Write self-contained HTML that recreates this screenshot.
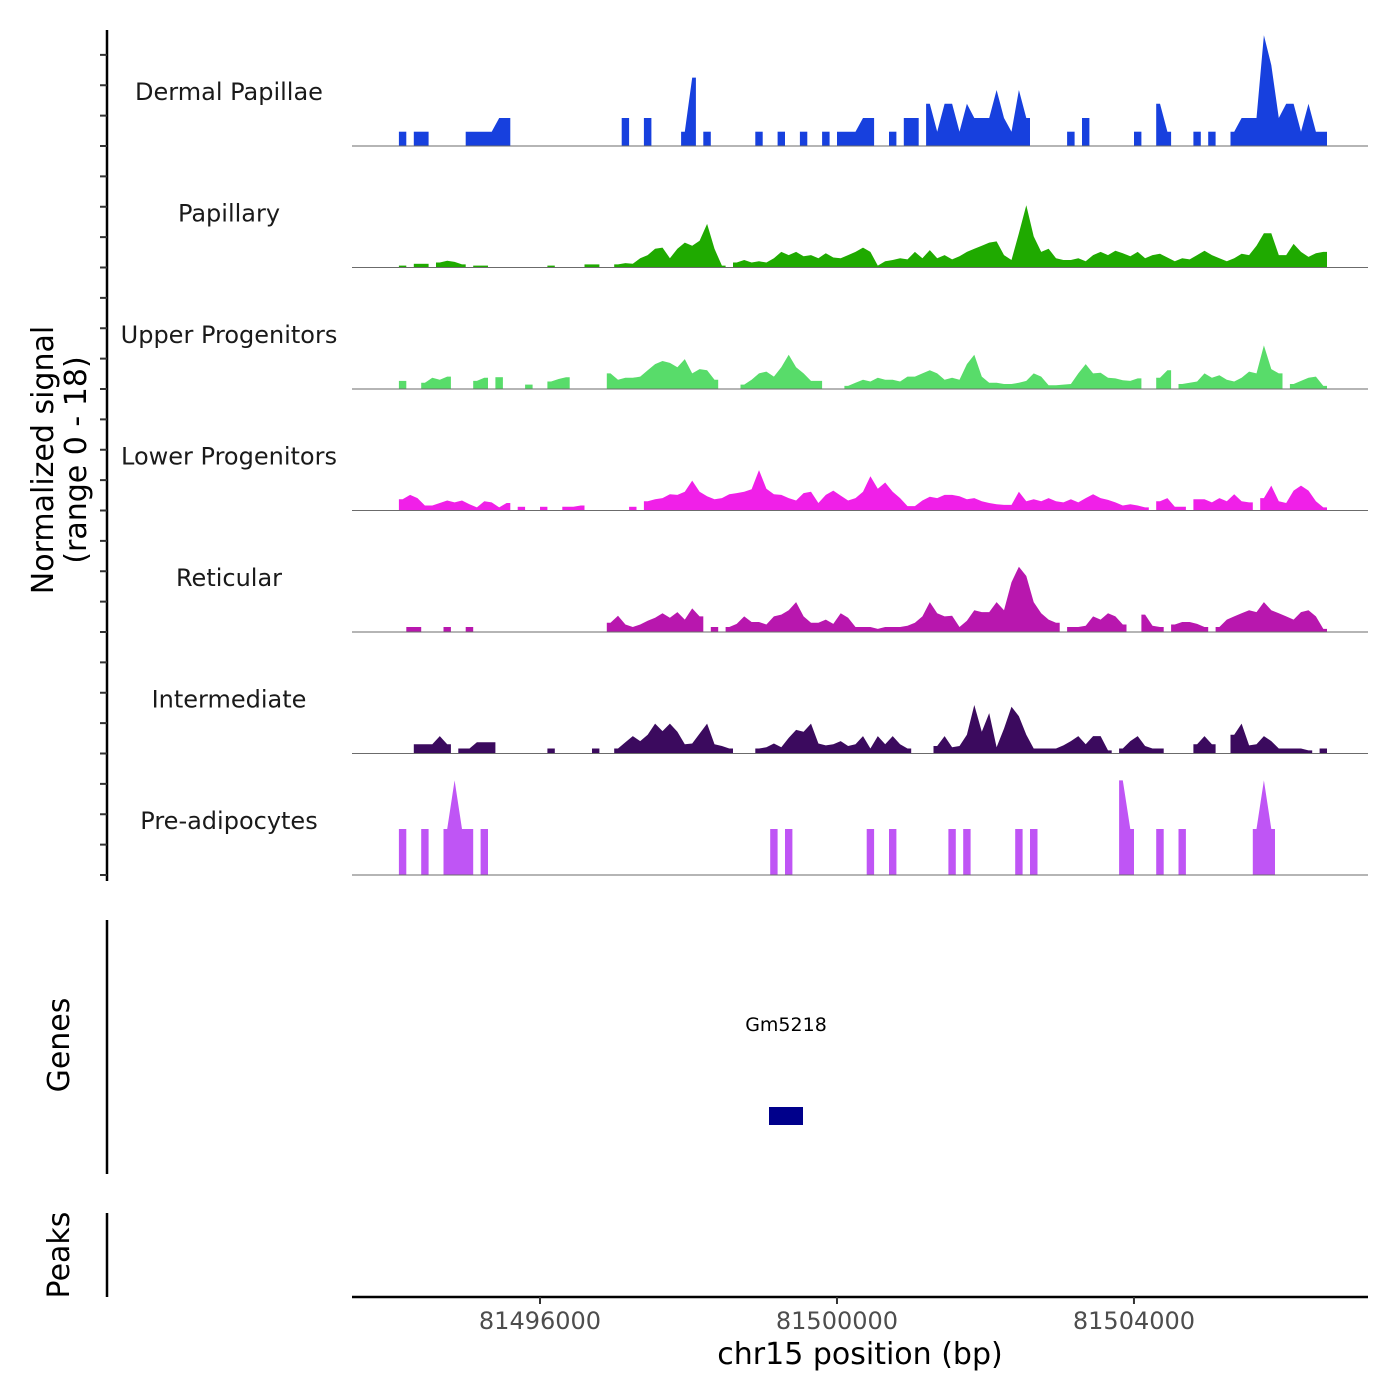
<!DOCTYPE html>
<html><head><meta charset="utf-8"><title>Coverage plot</title>
<style>
html,body{margin:0;padding:0;background:#fff;}
svg{display:block;font-family:"DejaVu Sans","Liberation Sans",sans-serif;}
</style></head>
<body>
<svg id="chart" width="1400" height="1400" viewBox="0 0 1400 1400" xmlns="http://www.w3.org/2000/svg">
<rect x="0" y="0" width="1400" height="1400" fill="#fff"/>
<g id="tracks"></g>
<g id="yaxis"></g>
<text x="53" y="460" font-size="30" text-anchor="middle" transform="rotate(-90 53 460)" fill="#000">Normalized signal</text>
<text x="86" y="460" font-size="30" text-anchor="middle" transform="rotate(-90 86 460)" fill="#000">(range 0 - 18)</text>
<line x1="107" y1="920" x2="107" y2="1174" stroke="#000" stroke-width="2.5"/>
<text x="69" y="1045" font-size="30" text-anchor="middle" transform="rotate(-90 69 1045)" fill="#000">Genes</text>
<text x="786" y="1031" font-size="19" text-anchor="middle" fill="#000">Gm5218</text>
<rect x="769" y="1107" width="34" height="18" fill="#00008B"/>
<line x1="107" y1="1213" x2="107" y2="1297" stroke="#000" stroke-width="2.5"/>
<text x="69" y="1255" font-size="30" text-anchor="middle" transform="rotate(-90 69 1255)" fill="#000">Peaks</text>
<g id="xaxis"></g>
<text x="860" y="1364" font-size="30" text-anchor="middle" fill="#000">chr15 position (bp)</text>
</svg>
<script>
const NS = "http://www.w3.org/2000/svg";
const trackNames = ["Dermal Papillae","Papillary","Upper Progenitors","Lower Progenitors","Reticular","Intermediate","Pre-adipocytes"];
const trackColors = ["#1740DE","#1FAA00","#58DC6A","#F020E8","#B817AE","#3B0A5E","#BF55F5"];
const binStart = 81494000;
const binSize = 100;
const nBins = 126;
const xTicks = [81496000, 81500000, 81504000];
const xDomain = [81493468, 81507152];
const yMax = 18;
const dermalPapillae = {1:2.3,3:2.3,4:2.3,10:2.3,11:2.3,12:2.3,13:2.3,14:4.5,15:4.5,31:4.5,34:4.5,39:2.3,40:11,42:2.3,49:2.3,52:2.3,55:2.3,58:2.3,60:2.3,61:2.3,62:2.3,63:4.5,64:4.5,67:2.3,69:4.5,70:4.5,72:6.8,73:2.3,74:6.8,75:6.8,76:2.3,77:6.8,78:4.5,79:4.5,80:4.5,81:9,82:4.5,83:2.3,84:9,85:4.5,91:2.3,93:4.5,100:2.3,103:6.8,104:2.3,108:2.3,110:2.3,113:2.3,114:4.5,115:4.5,116:4.5,117:17.8,118:13,119:4.5,120:6.8,121:6.8,122:2.3,123:6.8,124:2.3,125:2.3};
const papillary = {1:0.3,3:0.6,4:0.6,6:0.8,7:1.1,8:0.9,9:0.5,11:0.3,12:0.3,21:0.3,26:0.5,27:0.5,30:0.5,31:0.7,32:0.6,33:1.5,34:2,35:3,36:3.2,37:1.5,38:3,39:4,40:3.5,41:4.3,42:7,43:3,44:0.3,46:0.8,47:1.2,48:0.8,49:1,50:0.8,51:1.5,52:2.5,53:2,54:2.5,55:1.8,56:2,57:1.5,58:2.3,59:1.6,60:1.5,61:2,62:2.5,63:3.2,64:2.5,65:0.3,66:1,67:1.2,68:1.5,69:1.3,70:2.5,71:1.5,72:2.8,73:1.5,74:2,75:1.3,76:1.8,77:2.5,78:3,79:3.5,80:4,81:4.2,82:2,83:1.2,84:5.5,85:10,86:5,87:2.5,88:3,89:1.5,90:1.2,91:1.2,92:1.5,93:1,94:2,95:2.5,96:2,97:2.7,98:2.3,99:1.8,100:2.5,101:1.5,102:2,103:2.2,104:1.6,105:1,106:1.5,107:1.3,108:2,109:2.7,110:2,111:1.5,112:1,113:1.5,114:2.2,115:2,116:3.5,117:5.5,118:5.5,119:2,120:2,121:3.8,122:2.5,123:1.7,124:2.3,125:2.5};
const upperProgenitors = {1:1.3,4:1,5:1.8,6:1.5,7:2,11:1.3,12:1.8,14:1.9,18:0.7,21:1.2,22:1.6,23:1.9,29:2.5,30:1.5,31:1.8,32:1.8,33:2,34:3,35:4,36:4.5,37:4.2,38:3.5,39:4.8,40:2.5,41:3.2,42:3,43:1.5,47:0.7,48:1.5,49:2.5,50:2.8,51:2,52:3.5,53:5.5,54:3.5,55:2.5,56:1.3,57:1.3,61:0.5,62:1,63:1.5,64:1.2,65:1.8,66:1.5,67:1.5,68:1.2,69:2,70:2,71:2.5,72:3,73:2.5,74:1.5,75:1.8,76:1.5,77:4,78:5.5,79:2,80:1,81:1,82:0.8,83:0.8,84:1,85:1.3,86:2.5,87:2,88:0.6,89:0.6,90:0.7,91:0.8,92:2.5,93:4,94:2.5,95:2.6,96:1.8,97:1.7,98:1.4,99:1.3,100:1.7,103:1.8,104:3,106:0.8,107:1,108:1.2,109:2.5,110:1.8,111:2.2,112:1.5,113:1.2,114:1.8,115:2.8,116:2.5,117:7,118:3.2,119:2.5,121:0.8,122:1.3,123:1.8,124:2,125:0.5};
const lowerProgenitors = {1:1.8,2:2.5,3:2,4:0.8,5:0.8,6:1.2,7:1.6,8:1.3,9:1.6,10:1,11:0.5,12:1.5,13:1.3,14:0.5,15:1.2,17:0.6,20:0.6,23:0.6,24:0.6,25:0.8,32:0.6,34:1.5,35:1.8,36:2,37:2.6,38:2.5,39:3,40:4.8,41:3,42:2.3,43:1.8,44:2,45:2.6,46:2.8,47:3,48:3.4,49:6.5,50:3.5,51:2.6,52:2.5,53:2,54:1.6,55:2.8,56:3,57:1.2,58:2.5,59:3.2,60:2.4,61:1.6,62:2,63:3,64:5.5,65:3.5,66:4.5,67:3,68:2,69:0.7,70:0.7,71:1.6,72:2.2,73:2,74:2.5,75:2.5,76:2.3,77:1.8,78:2,79:1.5,80:1.2,81:1,82:0.9,83:0.9,84:3,85:1.5,86:1.8,87:1.5,88:2,89:1.5,90:1.3,91:1.8,92:1.3,93:2,94:2.6,95:2,96:1.7,97:1.3,98:0.8,99:1,100:0.8,101:0.5,103:1.5,104:2,105:0.6,106:0.6,108:1.8,109:1.8,110:1.3,111:2,112:1.5,113:2.6,114:1.5,115:1.3,117:2,118:4,119:1.5,120:1.2,121:3.2,122:4,123:3.2,124:1.5,125:0.5};
const reticular = {2:0.8,3:0.8,7:0.8,10:0.8,29:1.5,30:2.6,31:1.2,32:0.8,33:1.2,34:1.8,35:2.3,36:3,37:2.3,38:3.2,39:2,40:3.8,41:2.5,43:0.8,45:0.8,46:1.3,47:2.5,48:1.6,49:1.6,50:1.2,51:2.5,52:2.8,53:3.5,54:4.8,55:2.5,56:1.5,57:1.5,58:2,59:1.3,60:3,61:2.3,62:0.8,63:0.8,64:0.8,65:0.5,66:0.8,67:0.8,68:0.8,69:1,70:1.5,71:2.5,72:4.8,73:3,74:2.5,75:2.6,76:0.8,77:1.8,78:3.5,79:3.2,80:3.2,81:4.8,82:3.5,83:8,84:10.5,85:9,86:4.8,87:3,88:2,89:1.5,91:0.8,92:0.8,93:1,94:2.5,95:2,96:3,97:2.5,98:1.2,101:2.8,102:1,103:0.8,105:1.2,106:1.6,107:1.6,108:1.3,109:0.8,111:0.8,112:2,113:2.5,114:3,115:3.5,116:3.2,117:4.8,118:3.5,119:3,120:2.5,121:2,122:3.2,123:3.5,124:2.5,125:0.5};
const intermediate = {3:1.5,4:1.5,5:1.5,6:2.8,7:1.5,9:0.8,10:0.8,11:1.8,12:1.8,13:1.8,21:0.8,27:0.8,30:0.8,31:1.8,32:2.8,33:2,34:3,35:4.8,36:3.6,37:4.8,38:3.5,39:1.5,40:1.6,41:3.2,42:4.8,43:1.5,44:1.2,45:0.8,49:0.8,50:1,51:1.6,52:1,53:2.5,54:3.8,55:3.5,56:4.8,57:1.6,58:1.3,59:1.5,60:2,61:1.2,62:1.5,63:2.8,64:0.8,65:2.8,66:1.5,67:2.8,68:1.5,69:0.8,73:1.2,74:2.8,75:1,76:1.2,77:3,78:7.8,79:3.5,80:6.5,81:1,82:4,83:7.5,84:6,85:3,86:0.8,87:0.8,88:0.8,89:0.8,90:1.3,91:2,92:2.8,93:1.5,94:2.8,95:2.8,96:0.5,98:0.8,99:2,100:2.8,101:1.2,102:0.8,103:0.8,108:1.5,109:2.8,110:1.5,113:3,114:4.8,115:1.3,116:1.5,117:2.8,118:2,119:0.8,120:0.8,121:0.8,122:0.8,123:0.5,125:0.8};
const preAdipocytes = {1:7.4,4:7.4,7:7.4,8:15.2,9:7.4,10:7.4,12:7.4,51:7.4,53:7.4,64:7.4,67:7.4,75:7.4,77:7.4,84:7.4,86:7.4,98:15.2,99:7.4,103:7.4,106:7.4,116:7.4,117:15.2,118:7.4};
const trackData = [dermalPapillae, papillary, upperProgenitors, lowerProgenitors, reticular, intermediate, preAdipocytes];

const plotLeft = 352, plotRight = 1368;
const trackTop = 24.5, trackH = 121.5, trackPx = 112;
function xScale(bp){ return plotLeft + (bp - xDomain[0]) / (xDomain[1] - xDomain[0]) * (plotRight - plotLeft); }
function yScale(v, base){ return base - v / yMax * trackPx; }

const gTracks = document.getElementById('tracks');
trackNames.forEach(function(name, t){
  const base = trackTop + trackH * (t + 1);
  const g = document.createElementNS(NS, 'g');
  
  
  const data = trackData[t];
  const vals = [];
  for (let i = 0; i < nBins; i++) vals.push(data[i] || 0);
  let i = 0;
  while (i < nBins) {
    if (vals[i] <= 0) { i++; continue; }
    let j = i;
    while (j + 1 < nBins && vals[j + 1] > 0) j++;
    const pts = [];
    const x0 = xScale(binStart + i * binSize), x1 = xScale(binStart + (j + 1) * binSize);
    pts.push([x0, base], [x0, yScale(vals[i], base)]);
    for (let k = i; k <= j; k++) pts.push([xScale(binStart + (k + 0.5) * binSize), yScale(vals[k], base)]);
    pts.push([x1, yScale(vals[j], base)], [x1, base]);
    const p = document.createElementNS(NS, 'polygon');
    p.setAttribute('points', pts.map(q => q[0].toFixed(1) + ',' + q[1].toFixed(1)).join(' '));
    p.setAttribute('fill', trackColors[t]);
    
    
    g.appendChild(p);
    i = j + 1;
  }
  const bl = document.createElementNS(NS, 'line');
  bl.setAttribute('x1', plotLeft); bl.setAttribute('x2', plotRight);
  bl.setAttribute('y1', base); bl.setAttribute('y2', base);
  bl.setAttribute('stroke', '#6b6b6b'); bl.setAttribute('stroke-width', '1');
  
  
  g.appendChild(bl);
  const lab = document.createElementNS(NS, 'text');
  lab.setAttribute('x', 229); lab.setAttribute('y', base - 46);
  lab.setAttribute('font-size', '24'); lab.setAttribute('text-anchor', 'middle');
  lab.setAttribute('fill', '#1a1a1a');
  lab.textContent = name;
  
  
  g.appendChild(lab);
  gTracks.appendChild(g);
});

const gy = document.getElementById('yaxis');
const ax = document.createElementNS(NS, 'line');
ax.setAttribute('x1', 107); ax.setAttribute('x2', 107); ax.setAttribute('y1', 30); ax.setAttribute('y2', 881);
ax.setAttribute('stroke', '#000'); ax.setAttribute('stroke-width', '2.5');


gy.appendChild(ax);
for (let k = 1; k <= 28; k++) {
  const y = trackTop + k * trackH / 4;
  const tk = document.createElementNS(NS, 'line');
  tk.setAttribute('x1', 100); tk.setAttribute('x2', 107); tk.setAttribute('y1', y); tk.setAttribute('y2', y);
  tk.setAttribute('stroke', '#333'); tk.setAttribute('stroke-width', '2');
  
  
  gy.appendChild(tk);
}

const gx = document.getElementById('xaxis');
const xl = document.createElementNS(NS, 'line');
xl.setAttribute('x1', plotLeft); xl.setAttribute('x2', plotRight); xl.setAttribute('y1', 1297); xl.setAttribute('y2', 1297);
xl.setAttribute('stroke', '#000'); xl.setAttribute('stroke-width', '2.5');


gx.appendChild(xl);
xTicks.forEach(function(v){
  const x = xScale(v);
  const tk = document.createElementNS(NS, 'line');
  tk.setAttribute('x1', x); tk.setAttribute('x2', x); tk.setAttribute('y1', 1297); tk.setAttribute('y2', 1304);
  tk.setAttribute('stroke', '#333'); tk.setAttribute('stroke-width', '2');
  
  
  gx.appendChild(tk);
  const tl = document.createElementNS(NS, 'text');
  tl.setAttribute('x', x); tl.setAttribute('y', 1329);
  tl.setAttribute('font-size', '24'); tl.setAttribute('text-anchor', 'middle'); tl.setAttribute('fill', '#4d4d4d');
  tl.textContent = String(v);
  
  
  gx.appendChild(tl);
});
</script>
</body></html>
